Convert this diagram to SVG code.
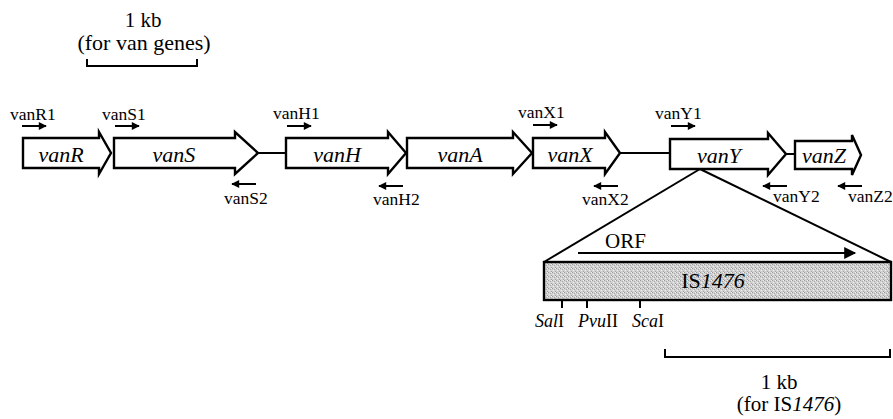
<svg xmlns="http://www.w3.org/2000/svg" width="893" height="419" viewBox="0 0 893 419">
<style>
text{font-family:"Liberation Serif","Times New Roman",serif;fill:#000}
.gene{fill:#fff;stroke:#000;stroke-width:2.4;stroke-linejoin:miter}
.gl{font-size:22px;font-style:italic;text-anchor:middle}
.pl{font-size:17.5px}
.pa{stroke:#000;stroke-width:2;fill:none;marker-end:url(#ph)}
.ln{stroke:#000;stroke-width:2;fill:none}
.sc{font-size:21px;text-anchor:middle}
.rs{font-size:18px}
</style>
<defs>
<marker id="ph" markerUnits="userSpaceOnUse" viewBox="0 0 10 10" refX="9" refY="5" markerWidth="9" markerHeight="8" orient="auto"><path d="M0,0 L10,5 L0,10 Z" fill="#000"/></marker>
<marker id="oh" markerUnits="userSpaceOnUse" viewBox="0 0 10 10" refX="9" refY="5" markerWidth="16" markerHeight="12" orient="auto"><path d="M0,0 L10,5 L0,10 Z" fill="#000"/></marker>
<pattern id="stip" width="4" height="4" patternUnits="userSpaceOnUse">
<rect width="4" height="4" fill="#d2d2d2"/>
<rect x="0" y="0" width="1" height="1" fill="#9a9a9a"/>
<rect x="2" y="1" width="1" height="1" fill="#a8a8a8"/>
<rect x="1" y="2" width="1" height="1" fill="#eeeeee"/>
<rect x="3" y="3" width="1" height="1" fill="#a0a0a0"/>
<rect x="3" y="0" width="1" height="1" fill="#f2f2f2"/>
</pattern>
</defs>

<g id="scale-top">
<text class="sc" x="143" y="27">1 kb</text>
<text class="sc" x="144" y="50" style="font-size:22px">(for van genes)</text>
<path class="ln" d="M87,59 V66 H197 V59"/>
</g>

<g id="connectors">
<line class="ln" x1="258" y1="153" x2="286" y2="153"/>
<line class="ln" x1="620" y1="153" x2="670" y2="153"/>
<line class="ln" x1="786" y1="154" x2="795" y2="154"/>
<line class="ln" x1="700" y1="169" x2="544" y2="262"/>
<line class="ln" x1="700" y1="169" x2="891" y2="262"/>
</g>

<g id="vanR"><path class="gene" d="M23,138 H99 V132 L111,153 L99,174 V168 H23 Z"/><text class="gl" x="61" y="162">vanR</text></g>
<g id="vanS"><path class="gene" d="M114,138 H235 V132 L258,153 L235,174 V168 H114 Z"/><text class="gl" x="174" y="162">vanS</text></g>
<g id="vanH"><path class="gene" d="M286,138 H388 V132 L406,153 L388,174 V168 H286 Z"/><text class="gl" x="337" y="162">vanH</text></g>
<g id="vanA"><path class="gene" d="M407,138 H513 V132 L532,153 L513,174 V168 H407 Z"/><text class="gl" x="460" y="162">vanA</text></g>
<g id="vanX"><path class="gene" d="M533,138 H605 V132 L620,153 L605,174 V168 H533 Z"/><text class="gl" x="570" y="162">vanX</text></g>
<g id="vanY"><path class="gene" d="M670,139 H768 V133 L786,154 L768,175 V169 H670 Z"/><text class="gl" x="719" y="163">vanY</text></g>
<g id="vanZ"><path class="gene" d="M795,141 H852 V135 L861,155 L852,175 V169 H795 Z"/><text class="gl" x="824" y="163">vanZ</text></g>

<g id="vanR1"><text class="pl" x="10" y="120">vanR1</text><line class="pa" x1="22" y1="126" x2="46" y2="126"/></g>
<g id="vanS1"><text class="pl" x="102" y="120">vanS1</text><line class="pa" x1="115" y1="126" x2="139" y2="126"/></g>
<g id="vanS2"><line class="pa" x1="256" y1="184" x2="232" y2="184"/><text class="pl" x="224" y="204">vanS2</text></g>
<g id="vanH1"><text class="pl" x="273" y="119">vanH1</text><line class="pa" x1="287" y1="126" x2="311" y2="126"/></g>
<g id="vanH2"><line class="pa" x1="403" y1="186" x2="379" y2="186"/><text class="pl" x="373" y="205">vanH2</text></g>
<g id="vanX1"><text class="pl" x="518" y="118">vanX1</text><line class="pa" x1="533" y1="125" x2="557" y2="125"/></g>
<g id="vanX2"><line class="pa" x1="618" y1="186" x2="594" y2="186"/><text class="pl" x="582" y="205">vanX2</text></g>
<g id="vanY1"><text class="pl" x="655" y="119">vanY1</text><line class="pa" x1="671" y1="126" x2="695" y2="126"/></g>
<g id="vanY2"><line class="pa" x1="787" y1="186" x2="763" y2="186"/><text class="pl" x="773" y="202">vanY2</text></g>
<g id="vanZ2"><line class="pa" x1="862" y1="186" x2="838" y2="186"/><text class="pl" x="848" y="202">vanZ2</text></g>

<g id="IS1476">
<text x="605" y="248" style="font-size:21px">ORF</text>
<line x1="578" y1="253" x2="855" y2="253" stroke="#000" stroke-width="2" marker-end="url(#oh)"/>
<rect x="544" y="262" width="347" height="38" fill="url(#stip)" stroke="#000" stroke-width="2.4"/>
<text x="713" y="288" style="font-size:22px;text-anchor:middle">IS<tspan font-style="italic">1476</tspan></text>
</g>

<g id="sites">
<path class="ln" d="M562,300 V308 M587,300 V308 M640,300 V308"/>
<text class="rs" x="535" y="327"><tspan font-style="italic">Sal</tspan>I</text>
<text class="rs" x="578" y="327"><tspan font-style="italic">Pvu</tspan>II</text>
<text class="rs" x="632" y="327"><tspan font-style="italic">Sca</tspan>I</text>
</g>

<g id="scale-bottom">
<path class="ln" d="M665,349 V357 H890 V349"/>
<text class="sc" x="779" y="389">1 kb</text>
<text class="sc" x="789" y="411">(for IS<tspan font-style="italic">1476</tspan>)</text>
</g>
</svg>
